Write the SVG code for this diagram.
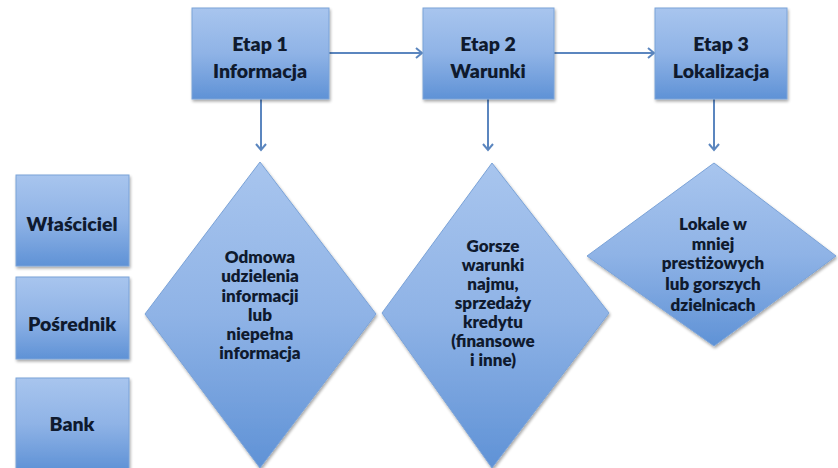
<svg xmlns="http://www.w3.org/2000/svg" width="838" height="468" viewBox="0 0 838 468">
<defs>
<linearGradient id="g" x1="0" y1="0" x2="0" y2="1">
<stop offset="0" stop-color="#a8c5ee"/>
<stop offset="0.5" stop-color="#8fb3e6"/>
<stop offset="1" stop-color="#5f92d6"/>
</linearGradient>
<filter id="sh" x="-10%" y="-10%" width="130%" height="130%">
<feGaussianBlur in="SourceAlpha" stdDeviation="1.5"/>
<feOffset dx="1" dy="2" result="b"/>
<feComponentTransfer><feFuncA type="linear" slope="0.35"/></feComponentTransfer>
<feMerge><feMergeNode/><feMergeNode in="SourceGraphic"/></feMerge>
</filter>
<marker id="ah" markerWidth="12" markerHeight="12" refX="9" refY="6" orient="auto" markerUnits="userSpaceOnUse">
<polyline points="3,1 9,6 3,11" fill="none" stroke="#5b86bf" stroke-width="2"/>
</marker>
<style>
.n{fill:url(#g);stroke:#7ba3d8;stroke-width:1;filter:url(#sh)}
.t{font-family:Lato,"Open Sans","Liberation Sans",sans-serif;font-weight:800;fill:#0f1a2e;text-anchor:middle}
.b{font-size:19.5px}
.d{font-size:17px}
.c{stroke:#5b86bf;stroke-width:2;fill:none;marker-end:url(#ah)}
</style>
</defs>
<g id="connectors">
<line class="c" x1="329" y1="53" x2="422" y2="53"/>
<line class="c" x1="554" y1="53" x2="654" y2="53"/>
<line class="c" x1="261" y1="99" x2="261" y2="150"/>
<line class="c" x1="488" y1="99" x2="488" y2="150"/>
<line class="c" x1="714" y1="99" x2="714" y2="150"/>
</g>
<g id="etap1">
<rect class="n" x="192" y="8" width="137" height="91"/>
<text class="t b" x="260" y="51">Etap 1</text>
<text class="t b" x="260" y="78">Informacja</text>
</g>
<g id="etap2">
<rect class="n" x="423" y="8" width="131" height="91"/>
<text class="t b" x="488" y="51">Etap 2</text>
<text class="t b" x="488" y="78">Warunki</text>
</g>
<g id="etap3">
<rect class="n" x="655" y="8" width="132" height="91"/>
<text class="t b" x="721" y="51">Etap 3</text>
<text class="t b" x="721" y="78">Lokalizacja</text>
</g>
<g id="wlasciciel">
<rect class="n" x="16" y="175" width="113" height="91"/>
<text class="t b" x="72" y="231">Właściciel</text>
</g>
<g id="posrednik">
<rect class="n" x="16" y="277" width="113" height="82"/>
<text class="t b" x="72" y="331">Pośrednik</text>
</g>
<g id="bank">
<rect class="n" x="16" y="378" width="113" height="92"/>
<text class="t b" x="72" y="431">Bank</text>
</g>
<g id="odmowa">
<polygon class="n" points="260,162 376,314 260,468 145,314"/>
<text class="t d" x="260" y="263">Odmowa</text>
<text class="t d" x="260" y="282">udzielenia</text>
<text class="t d" x="260" y="302">informacji</text>
<text class="t d" x="260" y="321">lub</text>
<text class="t d" x="260" y="340">niepełna</text>
<text class="t d" x="260" y="359">informacja</text>
</g>
<g id="gorsze">
<polygon class="n" points="492,163 609,313 492,468 382,313"/>
<text class="t d" x="493" y="252">Gorsze</text>
<text class="t d" x="493" y="271">warunki</text>
<text class="t d" x="493" y="290">najmu,</text>
<text class="t d" x="493" y="309">sprzedaży</text>
<text class="t d" x="493" y="328">kredytu</text>
<text class="t d" x="493" y="347">(finansowe</text>
<text class="t d" x="493" y="366">i inne)</text>
</g>
<g id="lokale">
<polygon class="n" points="714,163 836,256 714,346 587,256"/>
<text class="t d" x="713" y="230">Lokale w</text>
<text class="t d" x="713" y="250">mniej</text>
<text class="t d" x="713" y="269">prestiżowych</text>
<text class="t d" x="713" y="290">lub gorszych</text>
<text class="t d" x="713" y="311">dzielnicach</text>
</g>
</svg>
